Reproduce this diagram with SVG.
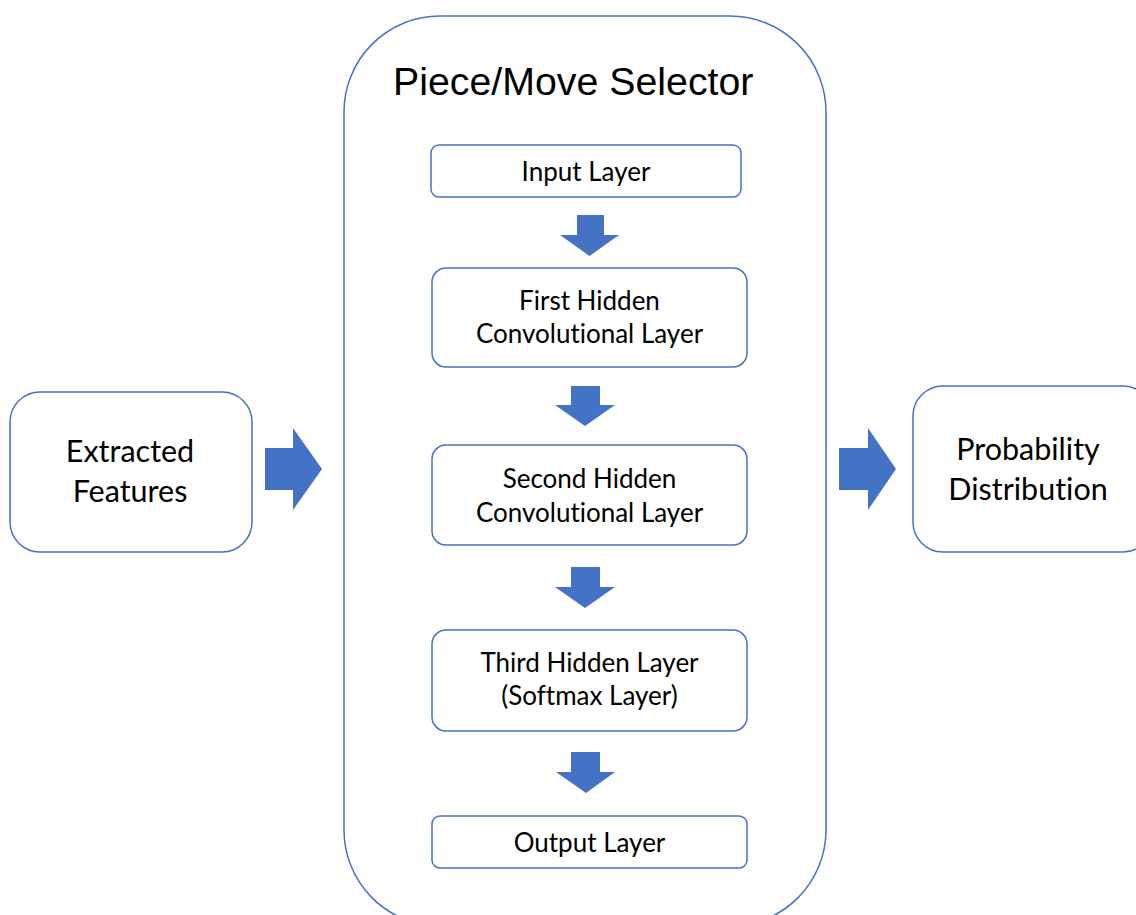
<svg xmlns="http://www.w3.org/2000/svg" width="1136" height="915" viewBox="0 0 1136 915">
  <defs>
    <style>
      .box { fill: #ffffff; stroke: #4472C4; stroke-width: 1.5; }
      .arrow { fill: #4472C4; stroke: none; }
      .label { font-family: "Lato", "Liberation Sans", sans-serif; font-size: 26px; fill: #000000; text-anchor: middle; font-variant-ligatures: none; }
      .big { font-family: "Lato", "Liberation Sans", sans-serif; font-size: 30.5px; fill: #000000; text-anchor: middle; font-variant-ligatures: none; }
      .title { font-family: "Liberation Sans", Arial, sans-serif; font-size: 39.3px; fill: #000000; }
    </style>
  </defs>
  <rect width="1136" height="915" fill="#ffffff"/>

  <!-- container -->
  <g id="selector">
    <rect class="box" x="344" y="16" width="482" height="910" rx="96" ry="96"/>
    <text class="title" x="393" y="95">Piece/Move Selector</text>
  </g>

  <g id="extracted-features">
    <rect class="box" x="10" y="392" width="242" height="160" rx="30" ry="30"/>
    <text class="big" x="130" y="462">Extracted</text>
    <text class="big" x="130" y="502">Features</text>
  </g>

  <g id="probability-distribution">
    <rect class="box" x="913" y="386" width="240" height="166" rx="30" ry="30"/>
    <text class="big" x="1028" y="460">Probability</text>
    <text class="big" x="1028" y="500">Distribution</text>
  </g>

  <g id="input-layer">
    <rect class="box" x="431" y="145" width="310" height="52" rx="8" ry="8"/>
    <text class="label" x="586" y="181">Input Layer</text>
  </g>

  <g id="first-hidden">
    <rect class="box" x="432" y="268" width="315" height="99" rx="14" ry="14"/>
    <text class="label" x="589.5" y="310">First Hidden</text>
    <text class="label" x="589.5" y="343">Convolutional Layer</text>
  </g>

  <g id="second-hidden">
    <rect class="box" x="432" y="445" width="315" height="100" rx="14" ry="14"/>
    <text class="label" x="589.5" y="488">Second Hidden</text>
    <text class="label" x="589.5" y="522">Convolutional Layer</text>
  </g>

  <g id="third-hidden">
    <rect class="box" x="432" y="630" width="315" height="101" rx="14" ry="14"/>
    <text class="label" x="589.5" y="672">Third Hidden Layer</text>
    <text class="label" x="589.5" y="705">(Softmax Layer)</text>
  </g>

  <g id="output-layer">
    <rect class="box" x="432" y="816" width="315" height="52" rx="8" ry="8"/>
    <text class="label" x="589.5" y="852">Output Layer</text>
  </g>

  <!-- block arrows between stages -->
  <g id="connectors">
    <polygon class="arrow" points="265,448 293,448 293,428 322,469 293,510 293,490 265,490"/>
    <polygon class="arrow" points="839,448 868,448 868,428 896,469 868,510 868,490 839,490"/>
    <polygon class="arrow" points="577,215 604,215 604,235 619,235 589.5,256 560,235 577,235"/>
    <polygon class="arrow" points="571,386 600,386 600,405 615,405 585,426 555,405 571,405"/>
    <polygon class="arrow" points="571,567 600,567 600,587 615,587 585,608 555,587 571,587"/>
    <polygon class="arrow" points="571,752 600,752 600,772 615,772 586,793 556,772 571,772"/>
  </g>
</svg>
